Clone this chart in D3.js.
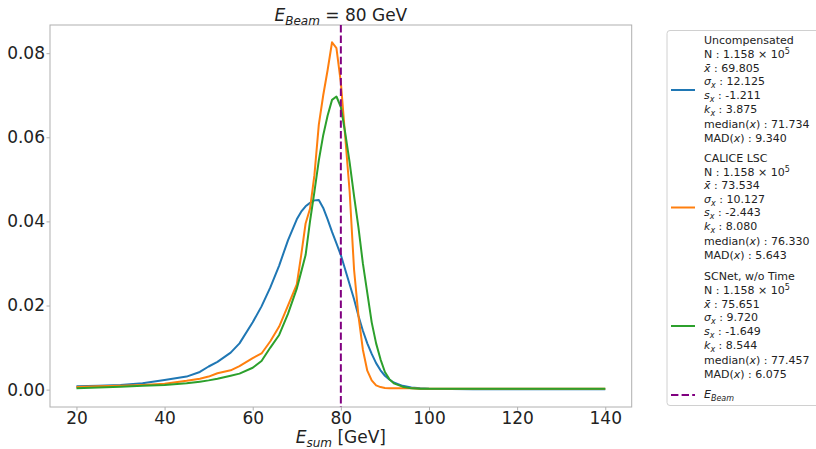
<!DOCTYPE html>
<html>
<head>
<meta charset="utf-8">
<script src="https://cdn.jsdelivr.net/npm/d3@7"></script>
<style>
  body { margin: 0; background: #fff; }
  svg { display: block; font-family: "DejaVu Sans", sans-serif; }
</style>
</head>
<body>
<div id="chart"></div>
<script>
// energy bins (GeV) and the normalised entries per series
const energies = [20, 25, 30, 35, 40, 45, 48, 50, 52, 55, 57, 60, 62, 64, 66, 68, 70, 71, 72, 73, 74, 75, 76, 77, 78, 79, 80, 81, 82, 83, 84, 85, 86, 87, 88, 89, 90, 91, 92, 94, 96, 98, 100, 110, 120, 130, 140];
const uncompensated = [0.0008, 0.0009, 0.0011, 0.0015, 0.0023, 0.0031, 0.0042, 0.0055, 0.0066, 0.0088, 0.0110, 0.0160, 0.0198, 0.0243, 0.0295, 0.0355, 0.0405, 0.0423, 0.0436, 0.0444, 0.0450, 0.0451, 0.0432, 0.0405, 0.0375, 0.0348, 0.0320, 0.0285, 0.0250, 0.0215, 0.0175, 0.0140, 0.0110, 0.0085, 0.0063, 0.0046, 0.0033, 0.0024, 0.0017, 0.0009, 0.0005, 0.0003, 0.0002, 0.0001, 0.0001, 0.0001, 0.0001];
const caliceLsc = [0.0006, 0.0008, 0.0009, 0.0011, 0.0014, 0.0021, 0.0026, 0.0031, 0.0039, 0.0046, 0.0056, 0.0075, 0.0086, 0.0115, 0.0150, 0.0200, 0.0250, 0.0320, 0.0395, 0.0430, 0.0510, 0.0630, 0.0700, 0.0760, 0.0826, 0.0812, 0.0730, 0.0600, 0.0470, 0.0285, 0.0175, 0.0095, 0.0045, 0.0022, 0.0010, 0.0006, 0.0004, 0.0003, 0.0003, 0.0003, 0.0003, 0.0002, 0.0002, 0.0002, 0.0002, 0.0002, 0.0002];
const scnet = [0.0003, 0.0005, 0.0007, 0.0009, 0.0011, 0.0015, 0.0019, 0.0022, 0.0026, 0.0033, 0.0038, 0.0052, 0.0068, 0.0100, 0.0130, 0.0180, 0.0240, 0.0280, 0.0320, 0.0400, 0.0470, 0.0545, 0.0605, 0.0652, 0.0689, 0.0697, 0.0672, 0.0610, 0.0540, 0.0460, 0.0385, 0.0300, 0.0230, 0.0160, 0.0110, 0.0072, 0.0042, 0.0025, 0.0015, 0.0007, 0.0003, 0.0002, 0.0002, 0.0002, 0.0002, 0.0002, 0.0002];
const beamEnergy = 80;

const xTicks = [20, 40, 60, 80, 100, 120, 140];
const yTicks = [0, 0.02, 0.04, 0.06, 0.08];

// legend statistics
const seriesNames = ["Uncompensated", "CALICE LSC", "SCNet, w/o Time"];
const statN = ["1.158", "1.158", "1.158"];
const statMean = ["69.805", "73.534", "75.651"];
const statSigma = ["12.125", "10.127", "9.720"];
const statSkew = ["-1.211", "-2.443", "-1.649"];
const statKurt = ["3.875", "8.080", "8.544"];
const statMedian = ["71.734", "76.330", "77.457"];
const statMad = ["9.340", "5.643", "6.075"];
const colors = ["#1f77b4", "#ff7f0e", "#2ca02c"];

const width = 816;
const height = 449;
const plot = { left: 50, right: 631.7, top: 25, bottom: 407 };

const svg = d3.select("#chart")
    .append("svg")
    .attr("width", width)
    .attr("height", height);

const x = d3.scaleLinear().domain([14, 146]).range([plot.left, plot.right]);
const y = d3.scaleLinear().domain([-0.00413, 0.0867]).range([plot.bottom, plot.top]);

// frame
svg.append("rect")
    .attr("x", plot.left)
    .attr("y", plot.top)
    .attr("width", plot.right - plot.left)
    .attr("height", plot.bottom - plot.top)
    .attr("fill", "none")
    .attr("stroke", "#b0b0b0")
    .attr("stroke-width", 1);

const xAxis = svg.append("g")
    .attr("transform", `translate(0,${plot.bottom})`)
    .call(d3.axisBottom(x).tickValues(xTicks).tickSize(3.5).tickPadding(1.5).tickFormat(d3.format("d")));

const yAxis = svg.append("g")
    .attr("transform", `translate(${plot.left},0)`)
    .call(d3.axisLeft(y).tickValues(yTicks).tickSize(3.5).tickPadding(1.5).tickFormat(d3.format(".2f")));

[xAxis, yAxis].forEach(a => {
    a.select(".domain").remove();
    a.selectAll(".tick line").attr("stroke", "#b0b0b0");
    a.selectAll(".tick text")
        .attr("fill", "#222")
        .style("font-size", "17px")
        .style("font-family", "DejaVu Sans");
});

// curves
const line = d3.line()
    .x((d, i) => x(energies[i]))
    .y(d => y(d));

[uncompensated, caliceLsc, scnet].forEach((values, i) => {
    svg.append("path")
        .datum(values)
        .attr("d", line)
        .attr("fill", "none")
        .attr("stroke", colors[i])
        .attr("stroke-width", 2)
        .attr("stroke-linejoin", "round");
});

svg.append("line")
    .attr("x1", x(beamEnergy))
    .attr("x2", x(beamEnergy))
    .attr("y1", plot.top)
    .attr("y2", plot.bottom)
    .attr("stroke", "purple")
    .attr("stroke-width", 2)
    .attr("stroke-dasharray", "7.4,3.2");

// title
const title = svg.append("text")
    .attr("x", (plot.left + plot.right) / 2)
    .attr("y", 20.7)
    .attr("text-anchor", "middle")
    .style("font-size", "17px")
    .attr("fill", "#222");
title.append("tspan").attr("font-style", "italic").text("E");
title.append("tspan").attr("font-style", "italic").attr("font-size", "12px").attr("baseline-shift", "-3.5").text("Beam");
title.append("tspan").text(" = 80 GeV");

// x label
const xlabel = svg.append("text")
    .attr("x", (plot.left + plot.right) / 2)
    .attr("y", 443)
    .attr("text-anchor", "middle")
    .style("font-size", "17px")
    .attr("fill", "#222");
xlabel.append("tspan").attr("font-style", "italic").text("E");
xlabel.append("tspan").attr("font-style", "italic").attr("font-size", "12px").attr("baseline-shift", "-3.5").text("sum");
xlabel.append("tspan").text(" [GeV]");

// legend
const legend = svg.append("g");

legend.append("rect")
    .attr("x", 667)
    .attr("y", 30.5)
    .attr("width", 200)
    .attr("height", 375)
    .attr("rx", 3)
    .attr("fill", "#fff")
    .attr("stroke", "#d0d0d0");

const lineOffsets = [0, 14.3, 27.8, 41, 54.5, 68.7, 83.7, 97.8];
const entryTops = [40, 157.5, 276];
const textX = 704;

function addLine(cy, parts) {
    const t = legend.append("text")
        .attr("x", textX)
        .attr("y", cy + 4)
        .style("font-size", "11px")
        .attr("fill", "#222");
    parts.forEach(p => {
        const s = t.append("tspan").text(p.text);
        if (p.italic) s.attr("font-style", "italic");
        if (p.sub) s.attr("font-size", "8px").attr("baseline-shift", "-2.5");
        if (p.sup) s.attr("font-size", "8px").attr("baseline-shift", "4.5");
    });
}

seriesNames.forEach((name, i) => {
    const top = entryTops[i];
    const rows = [
        [{ text: name }],
        [{ text: "N : " + statN[i] + " \u00d7 10" }, { text: "5", sup: true }],
        [{ text: "x\u0304", italic: true }, { text: " : " + statMean[i] }],
        [{ text: "\u03c3", italic: true }, { text: "x", italic: true, sub: true }, { text: " : " + statSigma[i] }],
        [{ text: "s", italic: true }, { text: "x", italic: true, sub: true }, { text: " : " + statSkew[i] }],
        [{ text: "k", italic: true }, { text: "x", italic: true, sub: true }, { text: " : " + statKurt[i] }],
        [{ text: "median(" }, { text: "x", italic: true }, { text: ") : " + statMedian[i] }],
        [{ text: "MAD(" }, { text: "x", italic: true }, { text: ") : " + statMad[i] }]
    ];
    rows.forEach((parts, j) => addLine(top + lineOffsets[j], parts));

    const hy = top + 50;
    legend.append("line")
        .attr("x1", 671).attr("x2", 695)
        .attr("y1", hy).attr("y2", hy)
        .attr("stroke", colors[i])
        .attr("stroke-width", 2);
});

legend.append("line")
    .attr("x1", 671).attr("x2", 695)
    .attr("y1", 395).attr("y2", 395)
    .attr("stroke", "purple")
    .attr("stroke-width", 2)
    .attr("stroke-dasharray", "7.4,3.2");

addLine(394, [{ text: "E", italic: true }, { text: "Beam", italic: true, sub: true }]);
</script>
</body>
</html>
